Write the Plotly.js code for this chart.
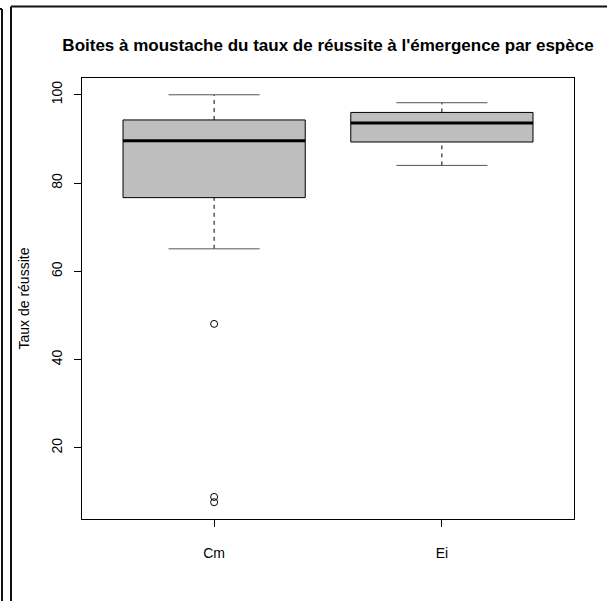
<!DOCTYPE html>
<html>
<head>
<meta charset="utf-8">
<script src="https://cdn.plot.ly/plotly-3.0.1.min.js"></script>
<style>html,body{margin:0;padding:0;background:#fff;}</style>
</head>
<body>
<div id="chart" style="width:607px;height:601px;"></div>
<script>
// ---- data ----
const categories = ['Cm', 'Ei'];
const positions = [1, 2];
const lowerWhisker = [65.1, 84.0];
const q1 = [76.7, 89.3];
const median = [89.6, 93.6];
const q3 = [94.3, 96.0];
const upperWhisker = [100.0, 98.2];
const outliersCm = [48.1, 8.9, 7.7];
const outliersEi = [];
const yTicks = [20, 40, 60, 80, 100];

const W = 607, H = 601;
const M = {l: 82, r: 33, t: 78, b: 82};
const pw = W - M.l - M.r, ph = H - M.t - M.b;
const FONT = 'Liberation Sans, Arial, Helvetica, sans-serif';
const halfBox = 0.4, halfCap = 0.2;

function segs(fn) {
  const xs = [], ys = [];
  positions.forEach((p, i) => {
    fn(p, i).forEach(s => { xs.push(s[0], s[2], null); ys.push(s[1], s[3], null); });
  });
  return {x: xs, y: ys};
}

const boxTrace = {
  type: 'box', x: positions, q1: q1, median: median, q3: q3,
  lowerfence: q1, upperfence: q3, width: 2 * halfBox,
  fillcolor: '#BEBEBE', line: {color: '#000', width: 1},
  whiskerwidth: 0, boxpoints: false, hoverinfo: 'skip', showlegend: false
};

const wh = segs((p, i) => [[p, q3[i], p, upperWhisker[i]], [p, lowerWhisker[i], p, q1[i]]]);
const whiskers = {type: 'scatter', mode: 'lines', x: wh.x, y: wh.y,
  line: {color: '#000', width: 1, dash: '4px,4px'}, hoverinfo: 'skip', showlegend: false};

const cp = segs((p, i) => [[p - halfCap, upperWhisker[i], p + halfCap, upperWhisker[i]],
                           [p - halfCap, lowerWhisker[i], p + halfCap, lowerWhisker[i]]]);
const caps = {type: 'scatter', mode: 'lines', x: cp.x, y: cp.y,
  line: {color: '#555', width: 1}, hoverinfo: 'skip', showlegend: false};

const md = segs((p, i) => [[p - halfBox, median[i], p + halfBox, median[i]]]);
const medians = {type: 'scatter', mode: 'lines', x: md.x, y: md.y,
  line: {color: '#000', width: 3}, hoverinfo: 'skip', showlegend: false};

const outY = outliersCm.concat(outliersEi);
const outX = outliersCm.map(() => positions[0]).concat(outliersEi.map(() => positions[1]));
const outliers = {type: 'scatter', mode: 'markers', x: outX, y: outY,
  marker: {symbol: 'circle-open', size: 7, color: '#000', line: {width: 1, color: '#000'}},
  hoverinfo: 'skip', showlegend: false};

function px2x(px) { return (px - M.l) / pw; }
function py2y(py) { return (H - M.b - py) / ph; }

const decoLine = {color: '#111', width: 2};
const shapes = [
  {type: 'line', xref: 'paper', yref: 'paper', x0: px2x(0), x1: px2x(2), y0: py2y(9), y1: py2y(9), line: decoLine},
  {type: 'line', xref: 'paper', yref: 'paper', x0: px2x(2), x1: px2x(2), y0: py2y(9), y1: py2y(602), line: decoLine},
  {type: 'line', xref: 'paper', yref: 'paper', x0: px2x(11), x1: px2x(11), y0: py2y(6.5), y1: py2y(602), line: decoLine},
  {type: 'line', xref: 'paper', yref: 'paper', x0: px2x(11), x1: px2x(608), y0: py2y(6.5), y1: py2y(6.5), line: decoLine}
];

const layout = {
  width: W, height: H, margin: M,
  paper_bgcolor: '#fff', plot_bgcolor: '#fff',
  font: {family: FONT, size: 14, color: '#000'},
  title: {text: "Boites à moustache du taux de réussite à l'émergence par espèce",
          font: {family: FONT, size: 17, color: '#000', weight: 'bold'},
          xref: 'paper', x: 0.5, xanchor: 'center', yref: 'container', y: 1 - 45 / H, yanchor: 'middle'},
  xaxis: {range: [0.42, 2.58], tickvals: positions, ticktext: categories,
          ticks: 'outside', ticklen: 7, tickcolor: '#000', tickwidth: 1,
          showgrid: false, zeroline: false, showline: true, linecolor: '#000', linewidth: 1, mirror: true,
          ticklabelstandoff: 14, tickfont: {size: 14}, fixedrange: true},
  yaxis: {range: [3.9, 103.8], tickvals: yTicks, ticktext: yTicks.map(String),
          ticks: 'outside', ticklen: 7, tickcolor: '#000', tickwidth: 1, tickangle: -90,
          showgrid: false, zeroline: false, showline: true, linecolor: '#000', linewidth: 1, mirror: true,
          ticklabelstandoff: 6, tickfont: {size: 14}, fixedrange: true},
  annotations: [{text: 'Taux de réussite', xref: 'paper', yref: 'paper', x: px2x(23), y: 0.5,
                 xanchor: 'center', yanchor: 'middle', textangle: -90, showarrow: false,
                 font: {family: FONT, size: 14, color: '#000'}}],
  shapes: shapes,
  showlegend: false
};

Plotly.newPlot('chart', [boxTrace, whiskers, caps, medians, outliers], layout, {staticPlot: true, displayModeBar: false});
</script>
</body>
</html>
